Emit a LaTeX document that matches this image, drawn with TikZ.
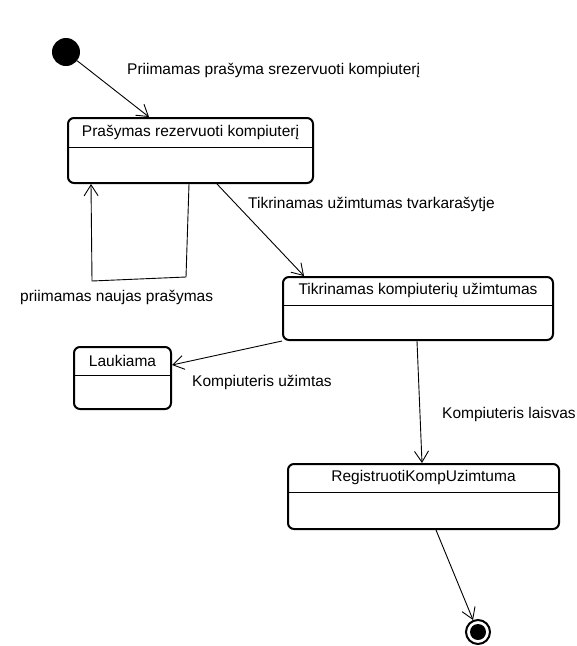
\documentclass[tikz,border=0pt]{standalone}
\usepackage{fontspec}
\setmainfont{Liberation Sans}
\usetikzlibrary{arrows.meta,calc}
\begin{document}
\begin{tikzpicture}[x=1pt,y=-1pt,
  sbox/.style={draw,line width=2pt,rounded corners=6pt,inner sep=0pt},
  stitle/.style={inner sep=0pt,font=\fontsize{15.5}{18}\selectfont},
  divider/.style={line width=1pt},
  trans/.style={line width=0.9pt,-{Straight Barb[length=11pt,width=14pt,line width=0.9pt]}},
  lbl/.style={anchor=west,inner sep=0pt,font=\fontsize{15.5}{18}\selectfont}]
\useasboundingbox (0,0) rectangle (577,646);

% initial and final pseudo-states
\node[circle,fill=black,minimum size=28pt,inner sep=0pt] (init) at (66,52) {};
\node[circle,draw,line width=2pt,minimum size=24pt,inner sep=0pt] (final) at (478,632) {};
\node[circle,fill=black,minimum size=16pt,inner sep=0pt] (finalin) at (478,632) {};

% states
\node[sbox,minimum width=245pt,minimum height=65pt] (s1) at (190.5,150.5) {};
\node[stitle] (s1t) at ($(s1.north)+(0,15)$) {Prašymas rezervuoti kompiuterį};
\draw[divider] ($(s1.north west)+(0,30)$) -- ($(s1.north east)+(0,30)$);

\node[sbox,minimum width=270pt,minimum height=63pt] (s2) at (418,308.5) {};
\node[stitle] (s2t) at ($(s2.north)+(0,14.5)$) {Tikrinamas kompiuterių užimtumas};
\draw[divider] ($(s2.north west)+(0,29)$) -- ($(s2.north east)+(0,29)$);

\node[sbox,minimum width=97pt,minimum height=62pt] (s3) at (122.5,378) {};
\node[stitle] (s3t) at ($(s3.north)+(0,14.5)$) {Laukiama};
\draw[divider] ($(s3.north west)+(0,29)$) -- ($(s3.north east)+(0,29)$);

\node[sbox,minimum width=271pt,minimum height=65pt] (s4) at (423.5,496.5) {};
\node[stitle] (s4t) at ($(s4.north)+(0,14.5)$) {RegistruotiKompUzimtuma};
\draw[divider] ($(s4.north west)+(0,29)$) -- ($(s4.north east)+(0,29)$);

% anchor points on the state borders
\coordinate (s1in) at ($(s1.north west)+(82,0)$);
\coordinate (s1out) at ($(s1.south west)+(150,0)$);
\coordinate (loopA) at ($(s1.south west)+(122,0)$);
\coordinate (loopB) at (186,277);
\coordinate (loopC) at (92,281);
\coordinate (loopD) at ($(s1.south west)+(24,0)$);
\coordinate (s2in) at ($(s2.north west)+(22,0)$);
\coordinate (s2outA) at (s2.south west);
\coordinate (s2outB) at ($(s2.south west)+(135,0)$);
\coordinate (s3in) at ($(s3.north east)+(0,19)$);
\coordinate (s4in) at ($(s4.north west)+(135,0)$);
\coordinate (s4out) at ($(s4.south west)+(149,0)$);

% transitions
\draw[trans] (init) -- (s1in);
\draw[trans] (loopA) -- (loopB) -- (loopC) -- (loopD);
\draw[trans] (s1out) -- (s2in);
\draw[trans] (s2outA) -- (s3in);
\draw[trans] (s2outB) -- (s4in);
\draw[trans] (s4out) -- (final);

% transition labels
\node[lbl] (l1) at (127,70) {Priimamas prašyma srezervuoti kompiuterį};
\node[lbl] (l2) at (20,297) {priimamas naujas prašymas};
\node[lbl] (l3) at (248,204) {Tikrinamas užimtumas tvarkarašytje};
\node[lbl] (l4) at (192,382) {Kompiuteris užimtas};
\node[lbl] (l5) at (442,414) {Kompiuteris laisvas};
\end{tikzpicture}
\end{document}
